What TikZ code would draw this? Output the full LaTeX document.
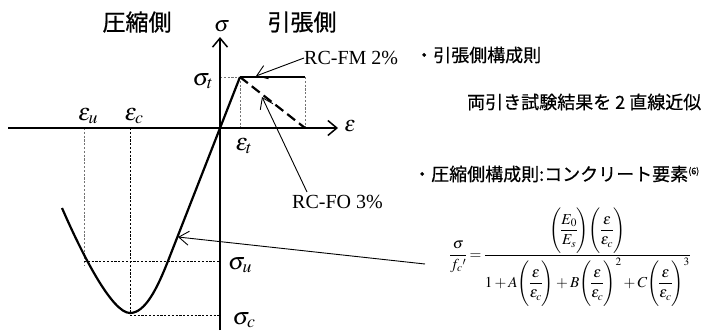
\documentclass[tikz,border=0pt]{standalone}
\usepackage{amsmath}
\usepackage{mathptmx}
\usepackage[no-math]{fontspec}
\setmainfont{Liberation Serif}
\newfontfamily\jp[FakeBold=0.5]{Noto Sans CJK JP}
\newfontfamily\jpt[FakeBold=0.8]{Noto Sans CJK JP}
\usetikzlibrary{arrows.meta}
\newcommand{\pfr}[2]{\left(\rule[-1.2em]{0pt}{2.9em}\dfrac{#1}{#2}\right)}
\begin{document}
\begin{tikzpicture}[x=1pt,y=-1pt,
  axis/.style={line width=1.5pt},
  axisarrow/.style={axis,-{Straight Barb[length=9pt,width=15pt,line width=1.5pt]}},
  curve/.style={line width=2.2pt, line join=round},
  guide/.style={line width=0.7pt, dash pattern=on 2.2pt off 1.6pt},
  guidegray/.style={guide, draw=black!55},
  thinarrow/.style={line width=0.9pt, -{Straight Barb[length=10pt,width=14pt,line width=0.9pt]}},
  lbl/.style={inner sep=0pt},
  jpbig/.style={lbl, font=\jpt\fontsize{23}{23}\selectfont},
  jptxt/.style={lbl, anchor=west, font=\jp\fontsize{18}{18}\selectfont},
  axlab/.style={lbl, font=\fontsize{22}{22}\selectfont},
  sym/.style={lbl, font=\fontsize{24}{24}\selectfont},
  rc/.style={lbl, anchor=west, font=\fontsize{20}{20}\selectfont}]
\useasboundingbox (0,0) rectangle (708,330);

% guide lines
\draw[guidegray] (84,128) -- (84,265);
\draw[guide] (130,128) -- (130,313);
\draw[guide] (84,261) -- (220,261);
\draw[guide] (130,315) -- (220,315);
\draw[guidegray] (220,77) -- (240,77);
\draw[guidegray] (240,77) -- (240,128);
\draw[guidegray] (305,77) -- (305,128);

% axes
\coordinate (xs) at (8,128);
\coordinate (xe) at (338,128);
\coordinate (ys) at (220,330);
\coordinate (ye) at (220,37);
\draw[axisarrow] (xs) -- (xe);
\draw[axisarrow] (ys) -- (ye);

% constitutive curve
\coordinate (peak) at (240,77);
\coordinate (flatend) at (305,77);
\coordinate (softend) at (305,128);
\draw[curve] (peak) -- (168,261) .. controls (157,289) and (145,313) .. (130,313)
   .. controls (112,313) and (82,254) .. (62,208);
\draw[curve] (peak) -- (flatend);
\draw[curve, dash pattern=on 10pt off 5pt] (peak) -- (softend);

% labels
\node[jpbig] (comp) at (137,22) {圧縮側};
\node[jpbig] (tens) at (302,22) {引張側};
\node[axlab] (sig) at (222,26) {$\sigma$};
\node[axlab] (eps) at (350,126) {$\varepsilon$};
\node[sym] (sigt) at (203,81) {$\sigma_{t}$};
\node[sym] (epst) at (244,146) {$\varepsilon_{t}$};
\node[sym] (epsu) at (88,116) {$\varepsilon_{u}$};
\node[sym] (epsc) at (134,116) {$\varepsilon_{c}$};
\node[sym] (sigu) at (240,265) {$\sigma_{u}$};
\node[sym] (sigc) at (244,320) {$\sigma_{c}$};

\node[rc] (fm) at (304,58) {RC-FM 2\%};
\node[rc] (fo) at (292,202) {RC-FO 3\%};
\coordinate (fmtip) at (256,76);
\coordinate (fotip) at (262,97);
\coordinate (fostart) at (307,192);
\draw[thinarrow] (fm.west) -- (fmtip);
\draw[thinarrow] (fostart) -- (fotip);

\node[jptxt] (t1) at (415,55) {・引張側構成則};
\node[jptxt] (t2) at (467,102) {両引き試験結果を 2 直線近似};
\node[jptxt] (t3) at (413,174) {・圧縮側構成則:コンクリート要素\textsuperscript{\fontsize{9}{9}\selectfont (6)}};

\node[lbl, font=\fontsize{15.2}{15.2}\selectfont] (eq) at (570,257)
 {\nulldelimiterspace=0pt\medmuskip=2.5mu$\displaystyle \frac{\sigma}{f_c{}'}=\frac{\pfr{E_0}{E_s}\!\pfr{\varepsilon}{\varepsilon_c}}{1+A\!\pfr{\varepsilon}{\varepsilon_c}+B\!\pfr{\varepsilon}{\varepsilon_c}^{2}+C\!\pfr{\varepsilon}{\varepsilon_c}^{3}}$};
\coordinate (eqarrow) at (425,264);
\coordinate (curvetip) at (178,237);
\draw[thinarrow] (eqarrow) -- (curvetip);
\end{tikzpicture}
\end{document}
